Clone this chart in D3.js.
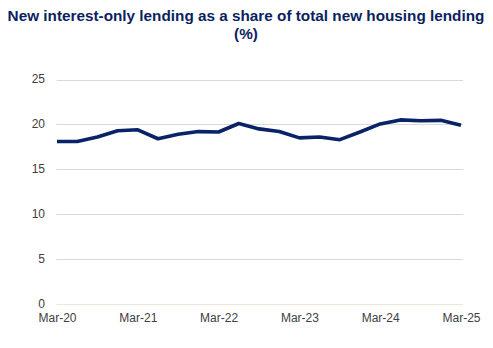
<!DOCTYPE html>
<html><head><meta charset="utf-8">
<script src="https://cdn.jsdelivr.net/npm/d3@7"></script>
<style>
html,body{margin:0;padding:0;background:#fff;}
svg{display:block;font-family:"Liberation Sans",Arial,sans-serif;}
</style></head>
<body>
<svg id="chart" width="493" height="348"></svg>
<script>
const quarters = ["Mar-20","Jun-20","Sep-20","Dec-20","Mar-21","Jun-21","Sep-21","Dec-21","Mar-22","Jun-22","Sep-22","Dec-22","Mar-23","Jun-23","Sep-23","Dec-23","Mar-24","Jun-24","Sep-24","Dec-24","Mar-25"];
const shareIO = [18.1,18.1,18.6,19.3,19.4,18.4,18.9,19.2,19.15,20.1,19.5,19.2,18.5,18.6,18.3,19.15,20.05,20.5,20.4,20.45,19.9];
const yTicks = [0,5,10,15,20,25];
const xTickLabels = ["Mar-20","Mar-21","Mar-22","Mar-23","Mar-24","Mar-25"];
const titleLines = ["New interest-only lending as a share of total new housing lending","(%)"];

const svg = d3.select("#chart");
const x = d3.scalePoint().domain(quarters).range([57, 461]);
const y = d3.scaleLinear().domain([0, 25]).range([304, 79.5]);

svg.selectAll("text.title").data(titleLines).enter().append("text")
  .attr("class","title")
  .attr("x", 246).attr("y", (d,i) => 21 + i*18)
  .attr("text-anchor","middle")
  .attr("font-size", 15.3).attr("font-weight","bold")
  .attr("fill","#0c1f5f")
  .text(d => d);

// gridlines
svg.append("g").selectAll("line").data(yTicks).enter().append("line")
  .attr("x1", 56.5).attr("x2", 463)
  .attr("y1", d => Math.round(y(d)) + 0.5).attr("y2", d => Math.round(y(d)) + 0.5)
  .attr("stroke", d => d === 0 ? "#ebe7d8" : "#d9d9d9")
  .attr("stroke-width", 1);

// y axis labels
const yAxis = d3.axisLeft(y).tickValues(yTicks).tickSize(0).tickPadding(0);
const gy = svg.append("g").attr("transform","translate(45,-0.5)").call(yAxis);
gy.select(".domain").remove();
gy.selectAll("text").attr("font-size",12).attr("fill","#404040")
  .attr("font-family","Liberation Sans, Arial, sans-serif");

// x axis labels
const xAxis = d3.axisBottom(x).tickValues(xTickLabels).tickSize(0).tickPadding(0);
const gx = svg.append("g").attr("transform","translate(0,313)").call(xAxis);
gx.select(".domain").remove();
gx.selectAll("text").attr("font-size",12).attr("fill","#404040")
  .attr("font-family","Liberation Sans, Arial, sans-serif");

// line
const line = d3.line().x((d,i) => x(quarters[i])).y(d => y(d));
svg.append("path").datum(shareIO)
  .attr("d", line)
  .attr("fill","none")
  .attr("stroke","#0a2268")
  .attr("stroke-width",3.6)
  .attr("stroke-linejoin","round");
</script>
</body></html>
